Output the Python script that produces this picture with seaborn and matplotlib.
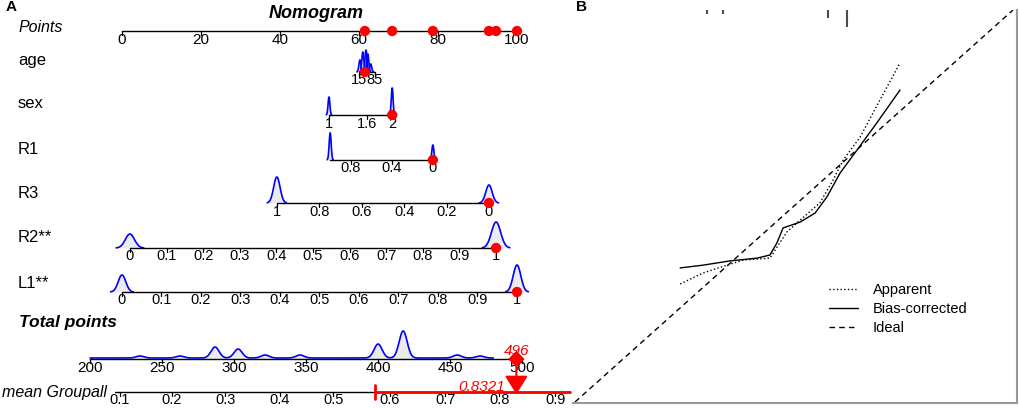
import numpy as np
import pandas as pd
import matplotlib
matplotlib.use("Agg")
import matplotlib.pyplot as plt
import seaborn as sns

sns.set_theme(style="white")
plt.rcParams["font.family"] = ["Liberation Sans", "DejaVu Sans"]
plt.rcParams["text.color"] = "black"

# -----------------------------
# Nomogram data (panel A)
# -----------------------------
row_names = ["age", "sex", "R1", "R3", "R2**", "L1**"]
var_lo = [15, 1, 1, 1, 0, 0]
var_hi = [85, 2, 0, 0, 1, 1]
pts_lo = [60.0, 52.4, 52.7, 39.2, 2.0, 0.0]
pts_hi = [64.0, 68.4, 78.7, 92.9, 94.7, 100.0]
var_ticks = [
    [15, 85],
    [1, 1.6, 2],
    [0.8, 0.4, 0],
    [1, 0.8, 0.6, 0.4, 0.2, 0],
    [0, 0.1, 0.2, 0.3, 0.4, 0.5, 0.6, 0.7, 0.8, 0.9, 1],
    [0, 0.1, 0.2, 0.3, 0.4, 0.5, 0.6, 0.7, 0.8, 0.9, 1],
]
obs_value = [41, 2, 0, 0, 1, 1]

# density peaks above each predictor scale (value, height in px)
dens_at = [
    [19, 32, 46, 54, 67],
    [1, 2],
    [1, 0],
    [1, 0],
    [0, 1],
    [0, 1],
]
dens_h = [
    [12, 20, 22, 18, 8],
    [18, 27],
    [27, 15],
    [26, 18],
    [14, 26],
    [17, 27],
]

points_ticks = [0, 20, 40, 60, 80, 100]

total_lo, total_hi = 200, 500
total_pts = [-8.1, 101.3]
total_ticks = [200, 250, 300, 350, 400, 450, 500]
total_dens_at = [234.7, 262.5, 286.8, 302.8, 321.5, 345.8, 400, 417.4, 454.9, 470.8]
total_dens_h = [2, 2, 11, 9, 3, 3, 14, 27, 3, 2]
total_obs = 496

mean_ticks = [0.1, 0.2, 0.3, 0.4, 0.5, 0.6, 0.7, 0.8, 0.9]
mean_tick_total = [220.8, 256.9, 293.8, 331.9, 368.8, 408.3, 446.5, 484.0, 522.9]
mean_axis_total = [217.4, 533.0]
mean_red_total = [397.9, 533.0]
mean_pred = 0.8321

# -----------------------------
# Calibration data (panel B)
# -----------------------------
app_x = [0.240, 0.292, 0.347, 0.384, 0.445, 0.461, 0.484, 0.514, 0.559, 0.589, 0.612, 0.651, 0.696, 0.742]
app_y = [0.301, 0.329, 0.349, 0.362, 0.367, 0.395, 0.434, 0.464, 0.508, 0.566, 0.617, 0.676, 0.770, 0.865]
bc_x = [0.240, 0.292, 0.354, 0.416, 0.445, 0.461, 0.475, 0.514, 0.548, 0.575, 0.605, 0.644, 0.689, 0.742]
bc_y = [0.342, 0.349, 0.360, 0.367, 0.375, 0.406, 0.444, 0.459, 0.482, 0.523, 0.584, 0.643, 0.712, 0.796]
ideal = [0, 1]
rug_x = [0.301, 0.338, 0.578, 0.621]
rug_len = [0.010, 0.010, 0.020, 0.043]

# -----------------------------
# layout helpers (pixel based)
# -----------------------------
X0, PXPT = 122, 3.95


def px2pts(px):
    return (px - X0) / PXPT


def to_pts(v, i):
    return pts_lo[i] + (v - var_lo[i]) / (var_hi[i] - var_lo[i]) * (pts_hi[i] - pts_lo[i])


def tot2pts(t):
    return total_pts[0] + (t - total_lo) / (total_hi - total_lo) * (total_pts[1] - total_pts[0])


def fmt(v):
    return f"{v:g}"


def bumps(ax, centers, heights, y0, sig_px, full=None):
    sig = sig_px / PXPT
    if full is None:
        for c, h in zip(centers, heights):
            xs = np.linspace(c - 3 * sig, c + 3 * sig, 80)
            ys = h * np.exp(-0.5 * ((xs - c) / sig) ** 2)
            ax.fill_between(xs, y0, y0 - ys, color="0.92", lw=0, zorder=1)
            ax.plot(xs, y0 - ys, color="blue", lw=1.2, zorder=2)
    else:
        xs = np.linspace(full[0], full[1], 600)
        ys = np.zeros_like(xs)
        for c, h in zip(centers, heights):
            ys += h * np.exp(-0.5 * ((xs - c) / sig) ** 2)
        ax.fill_between(xs, y0, y0 - ys - 1, color="0.92", lw=0, zorder=1)
        ax.plot(xs, y0 - ys - 1, color="blue", lw=1.2, zorder=2)


def scale(ax, xs_pts, labels, y, lo, hi, size=10.5, color="black", lw=1):
    ax.plot([lo, hi], [y, y], color=color, lw=lw, zorder=3)
    for xp, lab in zip(xs_pts, labels):
        ax.plot([xp, xp], [y, y + 4], color="black", lw=0.9, zorder=3)
        ax.text(xp, y + 1.5, lab, ha="center", va="top", fontsize=size, zorder=4)


fig = plt.figure(figsize=(10.2, 4.09), dpi=100)

# -----------------------------
# Panel A : nomogram
# -----------------------------
axA = fig.add_axes([0, 0, 575 / 1020, 1])
axA.set_xlim(px2pts(0), px2pts(575))
axA.set_ylim(409, 0)
axA.axis("off")

row_y = [72, 115, 160, 203, 248, 292]
label_y = [60, 103, 150, 193, 237, 283]
dens_sig = [1.0, 0.9, 1.0, 3.2, 4.6, 3.8]

axA.text(px2pts(316), 13, "Nomogram", ha="center", va="center",
         fontsize=13, fontweight="bold", fontstyle="italic")
axA.text(px2pts(18), 28, "Points", ha="left", va="center", fontsize=11.5, fontstyle="italic")
scale(axA, points_ticks, [fmt(t) for t in points_ticks], 31, 0, 100, size=11)

obs_pts = []
for i, name in enumerate(row_names):
    axA.text(px2pts(18), label_y[i], name, ha="left", va="center", fontsize=12)
    bumps(axA, [to_pts(v, i) for v in dens_at[i]], dens_h[i], row_y[i], dens_sig[i])
    lo, hi = sorted([pts_lo[i], pts_hi[i]])
    scale(axA, [to_pts(v, i) for v in var_ticks[i]], [fmt(v) for v in var_ticks[i]],
          row_y[i], lo, hi)
    obs_pts.append(to_pts(obs_value[i], i))

sns.scatterplot(x=obs_pts, y=row_y, color="red", s=55, edgecolor="none", ax=axA, zorder=6)
sns.scatterplot(x=obs_pts, y=[31] * len(obs_pts), color="red", s=55, edgecolor="none",
                ax=axA, zorder=6)

# total points
axA.text(px2pts(19), 323, "Total points", ha="left", va="center", fontsize=12.5,
         fontweight="bold", fontstyle="italic")
bumps(axA, [tot2pts(t) for t in total_dens_at], total_dens_h, 359, 4.0,
      full=(tot2pts(total_lo), tot2pts(480)))
scale(axA, [tot2pts(t) for t in total_ticks], [fmt(t) for t in total_ticks], 359,
      tot2pts(total_lo), tot2pts(total_hi), size=11)

# mean Groupall
axA.text(px2pts(2), 393, "mean Groupall", ha="left", va="center", fontsize=11.5,
         fontstyle="italic")
scale(axA, [tot2pts(t) for t in mean_tick_total], [fmt(t) for t in mean_ticks], 392,
      tot2pts(mean_axis_total[0]), tot2pts(mean_axis_total[1]), size=10.5)
axA.plot([tot2pts(mean_red_total[0]), tot2pts(mean_red_total[1])], [392, 392],
         color="red", lw=2, zorder=5)
axA.plot([tot2pts(mean_red_total[0])] * 2, [385, 399], color="red", lw=2, zorder=5)

xo = tot2pts(total_obs)
axA.annotate("", xy=(xo, 397), xytext=(xo, 359),
             arrowprops=dict(arrowstyle="-|>,head_length=0.8,head_width=0.5",
                             color="red", lw=1.5, mutation_scale=14), zorder=6)
sns.scatterplot(x=[xo], y=[359], marker="D", color="red", s=70, edgecolor="none",
                ax=axA, zorder=7)
axA.text(xo, 358, fmt(total_obs), color="red", ha="center", va="bottom",
         fontsize=11, fontstyle="italic", zorder=7)
axA.text(px2pts(505), 387, f"{mean_pred:.4f}", color="red", ha="right", va="center",
         fontsize=11, fontstyle="italic", zorder=7)

# -----------------------------
# Panel B : calibration
# -----------------------------
axB = fig.add_axes([573 / 1020, 6 / 409, 444 / 1020, 393 / 409])
sns.lineplot(x=app_x, y=app_y, ax=axB, color="black", lw=1, linestyle=":",
             sort=False, label="Apparent")
sns.lineplot(x=bc_x, y=bc_y, ax=axB, color="black", lw=1, linestyle="-",
             sort=False, label="Bias-corrected")
sns.lineplot(x=ideal, y=ideal, ax=axB, color="black", lw=1, sort=False, label="Ideal")
axB.lines[-1].set_dashes([4, 3])
axB.vlines(rug_x, [1 - r for r in rug_len], 1, color="0.3", lw=1.5)

axB.set_xlim(-0.0046, 1.009)
axB.set_ylim(-0.0026, 1.0)
axB.set_xticks([])
axB.set_yticks([])
axB.set_xlabel("")
axB.set_ylabel("")
for s in ["left", "top"]:
    axB.spines[s].set_visible(False)
for s in ["right", "bottom"]:
    axB.spines[s].set_color("0.6")
    axB.spines[s].set_linewidth(1.5)

leg = axB.legend(loc="center left", bbox_to_anchor=((829 - 573) / 444, (403 - 309) / 393),
                 frameon=False, fontsize=10.5, handlelength=2.0, handletextpad=1.0,
                 labelspacing=0.35, borderpad=0, borderaxespad=0)
for t in leg.get_texts():
    t.set_color("black")
for h in leg.get_lines():
    h.set_linewidth(1)
leg.get_lines()[2].set_dashes([4, 3])

fig.text(6 / 1020, 1 - 7 / 409, "A", fontsize=11, fontweight="bold", va="center")
fig.text(576 / 1020, 1 - 7 / 409, "B", fontsize=11, fontweight="bold", va="center")

plt.savefig("out.png", dpi=100)
plt.close()
